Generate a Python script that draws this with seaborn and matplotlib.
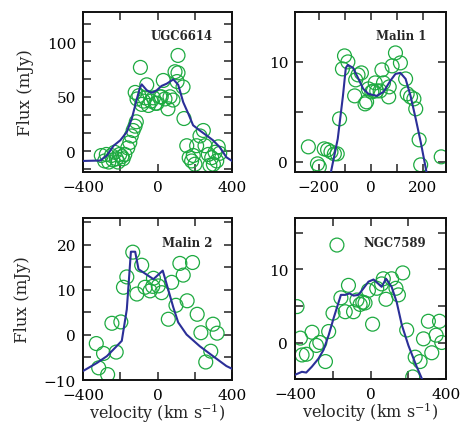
import matplotlib
matplotlib.use("Agg")
import matplotlib.pyplot as plt
import seaborn as sns
import pandas as pd
from matplotlib.ticker import MultipleLocator, FixedLocator

# ---------------- data ----------------
names = ["UGC6614", "Malin 1", "Malin 2", "NGC7589"]

ugc_vel = [-302, -284, -275, -262, -248, -240, -230, -221, -212, -203, -192, -185, -176,
           -160, -149, -141, -131, -121, -114,
           -120, -110, -100, -92, -85, -75, -67, -58, -49, -35, -22, -10, -3, 13, 20, 31, 40,
           56, 67, 83, 94, 105, 110, 110, 137, 142,
           157, 170, 183, 192, 201, 210, 228, 246, 255, 273, 281, 291, 300, 309, 318, 326, 334]
ugc_flux = [-4, -9, -3, -10, -4, -8, -1, -7, -10, -3, -5, -7, -3,
            3, 8, 14, 19, 23, 27,
            54, 48, 51, 77, 43, 46, 49, 61, 42, 46, 49, 44, 44, 50, 50, 65, 48,
            39, 50, 47, 73, 64, 72, 88, 59, 30,
            5, -6, -9, -4, -12, 5, 14, 19, 5, -3, -13, -6, -12, -1, -9, 4, -2]
ugc_model_vel = [-400, -307, -272, -236, -200, -165, -138, -111, -95, -85, -58, -31, -4, 22,
                 49, 85, 111, 138, 165, 191, 227, 263, 298, 334, 370, 400]
ugc_model_flux = [-9, -8.6, -4, 5, 10, 17.6, 30, 48, 58, 61.4, 56, 53.7, 56, 60,
                  62, 66, 61, 45, 34.6, 23.8, 19, 14.5, 10, 3.7, -5.6, -9]

m1_vel = [-239, -204, -197, -178, -165, -152, -139, -128, -119, -108, -100, -87, -61, -57,
          -48, -35, -21, -15, -8, 5, 11, 18, 24, 37, 44, 50, 70, 72, 83, 96, 115, 135, 141,
          154, 167, 174, 187, 193, 272]
m1_flux = [1.5, -0.2, -0.5, 1.3, 1.2, 1.0, 0.8, 0.8, 4.3, 9.3, 10.6, 10.0, 6.6, 8.2,
           8.7, 8.9, 5.8, 6.0, 7.3, 7.0, 7.1, 7.9, 7.1, 7.1, 9.2, 7.9, 6.5, 7.5, 9.6, 10.9, 9.9, 8.3, 6.8,
           6.5, 6.3, 5.3, 2.2, -0.3, 0.5]
m1_model_vel = [-160, -152, -126, -106, -95, -87, -67, -48, -28, -8, 24, 50, 76, 96, 115,
                135, 154, 174, 193, 213, 222]
m1_model_flux = [-2, -1, 2.3, 6.6, 9.4, 9.7, 9.4, 8.4, 7.3, 6.8, 6.6, 7.0, 8.1, 8.8, 8.9,
                 8.3, 6.6, 4.3, 2.0, -0.7, -2]

m2_vel = [-329, -316, -290, -268, -245, -222, -197, -183, -165, -133, -111, -85, -67, -40,
          -26, -22, 4, 22, 58, 76, 99, 120, 138, 159, 188, 213, 233, 259, 286, 298, 320]
m2_flux = [-1.9, -7.3, -4.1, -8.8, 2.6, -3.8, 2.9, 10.6, 12.9, 18.4, 9.1, 15.5, 10.6, 9.8,
           10.8, 12.6, 10.9, 9.4, 3.5, 11.7, 6.6, 15.9, 13.3, 7.6, 16.1, 4.6, 0.5, -6.0, -3.6, 2.4, 0.4]
m2_model_vel = [-400, -325, -272, -227, -192, -165, -143, -120, -102, -76, -22, 28, 49, 85,
                111, 156, 227, 298, 370, 400]
m2_model_flux = [-8.0, -6.2, -4.7, -2.8, -1.3, 5.7, 18.5, 18.5, 14.6, 13.9, 12.4, 14.3, 11.3,
                 6.1, 2.8, 0.1, -2.5, -4.7, -6.9, -7.5]

n_vel = [-390, -372, -363, -340, -310, -287, -269, -239, -222, -199, -178, -157, -134, -117,
         -90, -72, -55, -41, -29, -11, 11, 33, 59, 68, 82, 112, 135, 148, 171, 192, 224, 237,
         263, 281, 307, 325, 348, 366, 378]
n_flux = [4.9, 0.6, -1.7, -1.6, 1.4, -0.4, 0, -2.6, 1.5, 4.0, 13.3, 6.1, 4.2, 7.8,
          4.2, 5.8, 5.2, 5.5, 5.4, 7.1, 2.5, 7.4, 8.0, 8.7, 5.9, 8.7, 7.4, 6.5, 9.5, 1.7, -4.7, -2.0,
          -2.6, 0.5, 2.9, -1.4, 1.0, 2.9, 0]
n_model_vel = [-400, -364, -341, -311, -276, -249, -222, -196, -157, -134, -111, -90, -64,
               -37, -11, 16, 42, 59, 82, 112, 139, 166, 201, 245, 272, 290]
n_model_flux = [-4.4, -4, -4.1, -3.3, -2.2, -1.0, 1.0, 3.3, 6.5, 6.5, 6.7, 6.4, 6.5,
                7.4, 8.3, 8.6, 8.0, 7.6, 8.7, 7.6, 5.5, 2.4, -0.4, -3.3, -4.9, -6]

obs = [(ugc_vel, ugc_flux), (m1_vel, m1_flux), (m2_vel, m2_flux), (n_vel, n_flux)]
models = [(ugc_model_vel, ugc_model_flux), (m1_model_vel, m1_model_flux),
          (m2_model_vel, m2_model_flux), (n_model_vel, n_model_flux)]

# ---------------- style ----------------
sns.set_style("ticks")
plt.rcParams['font.family'] = ['DejaVu Serif']
plt.rcParams['mathtext.default'] = 'regular'

green = "#1daa40"
blue = "#2b2f98"

fig = plt.figure(figsize=(4.64, 4.31), dpi=100)
rects = [[0.179, 0.599, 0.321, 0.371],
         [0.636, 0.599, 0.325, 0.371],
         [0.179, 0.116, 0.321, 0.376],
         [0.636, 0.118, 0.325, 0.374]]
xlims = [(-400, 400), (-290, 290), (-400, 400), (-400, 400)]
ylims = [(-19, 128), (-1, 15), (-10, 26), (-5, 17)]
xmaj = [[-400, 0, 400], [-200, 0, 200], [-400, 0, 400], [-400, 0, 400]]
xmin = [[-200, 200], [-100, 100], [-200, 200], [-200, 200]]
ymaj = [50, 10, 10, 10]
ymin = [50 / 3, 5, 5, 5]

for i in range(4):
    ax = fig.add_axes(rects[i])
    vx, vy = obs[i]
    mx, my = models[i]
    dfo = pd.DataFrame({"velocity": vx, "flux": vy})
    dfm = pd.DataFrame({"velocity": mx, "flux": my})
    sns.lineplot(data=dfm, x="velocity", y="flux", ax=ax, color=blue, lw=1.5,
                 sort=False, zorder=3)
    sns.scatterplot(data=dfo, x="velocity", y="flux", ax=ax, s=100, marker="o",
                    facecolors="none", edgecolor=green, linewidth=0.9, zorder=2)
    ax.set_xlim(*xlims[i])
    ax.set_ylim(*ylims[i])
    ax.xaxis.set_major_locator(FixedLocator(xmaj[i]))
    ax.xaxis.set_minor_locator(FixedLocator(xmin[i]))
    ax.yaxis.set_major_locator(MultipleLocator(ymaj[i]))
    ax.yaxis.set_minor_locator(MultipleLocator(ymin[i]))
    ax.tick_params(which="both", direction="in", top=True, right=True,
                   width=1.1, colors="#222222", labelsize=11, labelcolor="black")
    ax.tick_params(which="major", length=6)
    ax.tick_params(axis="y", which="major", pad=5)
    ax.tick_params(axis="x", which="major", pad=6)
    ax.tick_params(which="minor", length=6)
    for sp in ax.spines.values():
        sp.set_linewidth(1.4)
        sp.set_color("#111111")
    ax.set_xlabel("")
    ax.set_ylabel("")
    ax.text(0.87, 0.85, names[i], transform=ax.transAxes, ha="right", va="center",
            fontsize=8.5, fontweight="bold")
    if i in (0, 2):
        ax.set_ylabel("Flux (mJy)", fontsize=12, labelpad=9)
    if i in (2, 3):
        ax.set_xlabel("velocity (km s$^{-1}$)", fontsize=11.5, labelpad=-1)

fig.savefig("out.png", dpi=100)
